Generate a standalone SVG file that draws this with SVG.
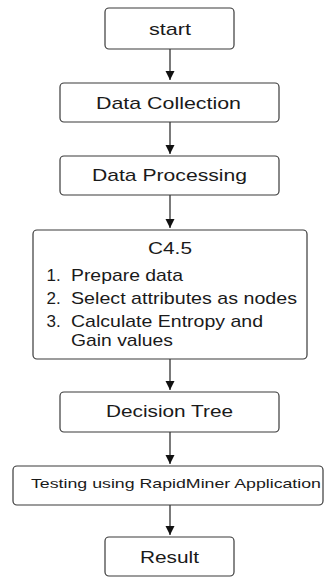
<svg xmlns="http://www.w3.org/2000/svg" width="324" height="577" viewBox="0 0 324 577">
  <style>
    .box { fill: #ffffff; stroke: #3a3a3a; stroke-width: 1.2; }
    .lbl { font-family: "Liberation Sans", Arial, sans-serif; font-size: 17px; fill: #1a1a1a; }
    .sm { font-size: 12.2px; }
    .edge { stroke: #222222; stroke-width: 1.2; fill: none; marker-end: url(#arrow); }
  </style>
  <defs>
    <marker id="arrow" markerWidth="10" markerHeight="10" refX="9" refY="4.5" orient="auto" markerUnits="userSpaceOnUse">
      <path d="M0,0 L9,4.5 L0,9 Z" fill="#111111"/>
    </marker>
  </defs>
  <rect width="324" height="577" fill="#ffffff"/>

  <g id="connectors">
    <line class="edge" x1="170" y1="49" x2="170" y2="80"/>
    <line class="edge" x1="170" y1="122" x2="170" y2="154"/>
    <line class="edge" x1="170" y1="195" x2="170" y2="228"/>
    <line class="edge" x1="170" y1="359" x2="170" y2="390"/>
    <line class="edge" x1="170" y1="432" x2="170" y2="464"/>
    <line class="edge" x1="170" y1="505" x2="170" y2="535"/>
  </g>

  <g id="start">
    <rect class="box" x="105" y="8" width="129" height="41" rx="4"/>
    <text class="lbl" x="149" y="35" textLength="42" lengthAdjust="spacingAndGlyphs">start</text>
  </g>

  <g id="data-collection">
    <rect class="box" x="60" y="83" width="219" height="39" rx="4"/>
    <text class="lbl" x="96" y="109" textLength="145" lengthAdjust="spacingAndGlyphs">Data Collection</text>
  </g>

  <g id="data-processing">
    <rect class="box" x="60" y="156" width="219" height="39" rx="4"/>
    <text class="lbl" x="92" y="181" textLength="155" lengthAdjust="spacingAndGlyphs">Data Processing</text>
  </g>

  <g id="c45">
    <rect class="box" x="33" y="230" width="274" height="129" rx="4"/>
    <text class="lbl" x="148" y="254" textLength="44" lengthAdjust="spacingAndGlyphs">C4.5</text>
    <text class="lbl" x="46.5" y="280.5">1.</text>
    <text class="lbl" x="71" y="280.5" textLength="112" lengthAdjust="spacingAndGlyphs">Prepare data</text>
    <text class="lbl" x="46.5" y="303.5">2.</text>
    <text class="lbl" x="71" y="303.5" textLength="226" lengthAdjust="spacingAndGlyphs">Select attributes as nodes</text>
    <text class="lbl" x="46.5" y="326.5">3.</text>
    <text class="lbl" x="71" y="326.5" textLength="192" lengthAdjust="spacingAndGlyphs">Calculate Entropy and</text>
    <text class="lbl" x="71" y="345.5" textLength="102" lengthAdjust="spacingAndGlyphs">Gain values</text>
  </g>

  <g id="decision-tree">
    <rect class="box" x="60" y="392" width="219" height="40" rx="4"/>
    <text class="lbl" x="106" y="416.5" textLength="127" lengthAdjust="spacingAndGlyphs">Decision Tree</text>
  </g>

  <g id="testing">
    <rect class="box" x="13" y="466" width="310" height="39" rx="4"/>
    <text class="lbl sm" x="31" y="487.5" textLength="290" lengthAdjust="spacingAndGlyphs">Testing using RapidMiner Application</text>
  </g>

  <g id="result">
    <rect class="box" x="105" y="537" width="129" height="39" rx="4"/>
    <text class="lbl" x="140" y="563" textLength="59" lengthAdjust="spacingAndGlyphs">Result</text>
  </g>
</svg>
